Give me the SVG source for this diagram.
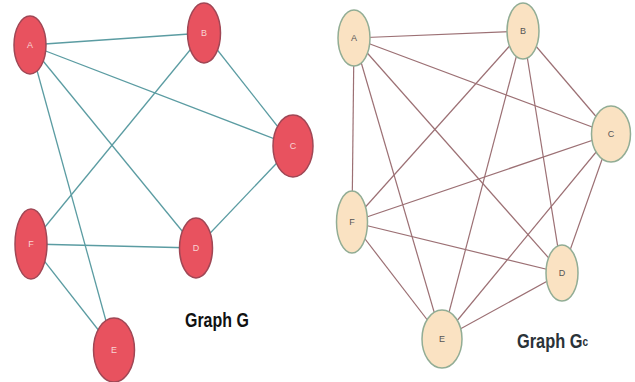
<svg xmlns="http://www.w3.org/2000/svg" width="635" height="382" viewBox="0 0 635 382">
<style>
.eg{stroke:#5b9ca2;stroke-width:1.3;fill:none}
.ec{stroke:#9c7074;stroke-width:1.2;fill:none}
.ng ellipse{fill:#e8525f;stroke:#a04755;stroke-width:1.5}
.nc ellipse{fill:#fae2c2;stroke:#92ad95;stroke-width:1.5}
.ng text{font-family:"Liberation Sans",Arial,sans-serif;font-size:9px;fill:#f8d4d4;text-anchor:middle}
.nc text{font-family:"Liberation Sans",Arial,sans-serif;font-size:9px;fill:#555;text-anchor:middle}
.title{font-family:"Liberation Sans",Arial,sans-serif;font-weight:bold;font-size:21px}
</style>
<rect width="635" height="382" fill="#fff"/>
<g id="edges-G">
<line class="eg" x1="30" y1="45" x2="204" y2="33"/>
<line class="eg" x1="30" y1="45" x2="293" y2="146"/>
<line class="eg" x1="30" y1="45" x2="196" y2="248"/>
<line class="eg" x1="30" y1="45" x2="114" y2="350"/>
<line class="eg" x1="204" y1="33" x2="31" y2="244"/>
<line class="eg" x1="204" y1="33" x2="293" y2="146"/>
<line class="eg" x1="293" y1="146" x2="196" y2="248"/>
<line class="eg" x1="31" y1="244" x2="196" y2="248"/>
<line class="eg" x1="31" y1="244" x2="114" y2="350"/>
</g>
<g id="edges-Gc">
<line class="ec" x1="354" y1="38" x2="523" y2="31"/>
<line class="ec" x1="354" y1="38" x2="611" y2="134"/>
<line class="ec" x1="354" y1="38" x2="352" y2="222"/>
<line class="ec" x1="354" y1="38" x2="442" y2="339"/>
<line class="ec" x1="354" y1="38" x2="562" y2="273"/>
<line class="ec" x1="523" y1="31" x2="611" y2="134"/>
<line class="ec" x1="523" y1="31" x2="352" y2="222"/>
<line class="ec" x1="523" y1="31" x2="442" y2="339"/>
<line class="ec" x1="523" y1="31" x2="562" y2="273"/>
<line class="ec" x1="611" y1="134" x2="352" y2="222"/>
<line class="ec" x1="611" y1="134" x2="442" y2="339"/>
<line class="ec" x1="611" y1="134" x2="562" y2="273"/>
<line class="ec" x1="352" y1="222" x2="562" y2="273"/>
<line class="ec" x1="352" y1="222" x2="442" y2="339"/>
<line class="ec" x1="442" y1="339" x2="562" y2="273"/>
</g>
<g id="G-A" class="ng"><ellipse cx="30" cy="45" rx="16" ry="29"/><text x="30" y="48">A</text></g>
<g id="G-B" class="ng"><ellipse cx="204" cy="33" rx="16.5" ry="30"/><text x="204" y="36">B</text></g>
<g id="G-C" class="ng"><ellipse cx="293" cy="146" rx="20" ry="31"/><text x="293" y="149">C</text></g>
<g id="G-F" class="ng"><ellipse cx="31" cy="244" rx="16" ry="35"/><text x="31" y="247">F</text></g>
<g id="G-D" class="ng"><ellipse cx="196" cy="248" rx="16.5" ry="30"/><text x="196" y="251">D</text></g>
<g id="G-E" class="ng"><ellipse cx="114" cy="350" rx="20.5" ry="32"/><text x="114" y="353">E</text></g>
<g id="Gc-A" class="nc"><ellipse cx="354" cy="38" rx="16" ry="28"/><text x="354" y="41">A</text></g>
<g id="Gc-B" class="nc"><ellipse cx="523" cy="31" rx="16" ry="28"/><text x="523" y="34">B</text></g>
<g id="Gc-C" class="nc"><ellipse cx="611" cy="134" rx="19.5" ry="28"/><text x="611" y="137">C</text></g>
<g id="Gc-F" class="nc"><ellipse cx="352" cy="222" rx="15.5" ry="31"/><text x="352" y="225">F</text></g>
<g id="Gc-D" class="nc"><ellipse cx="562" cy="273" rx="16" ry="28"/><text x="562" y="276">D</text></g>
<g id="Gc-E" class="nc"><ellipse cx="442" cy="339" rx="20" ry="29"/><text x="442" y="342">E</text></g>
<text class="title" transform="translate(185,327) scale(0.76,1)" fill="#111">Graph G</text>
<text class="title" transform="translate(517,348) scale(0.78,1)" fill="#2a3238">Graph G<tspan style="font-size:13px" dy="-2">c</tspan></text>
</svg>
